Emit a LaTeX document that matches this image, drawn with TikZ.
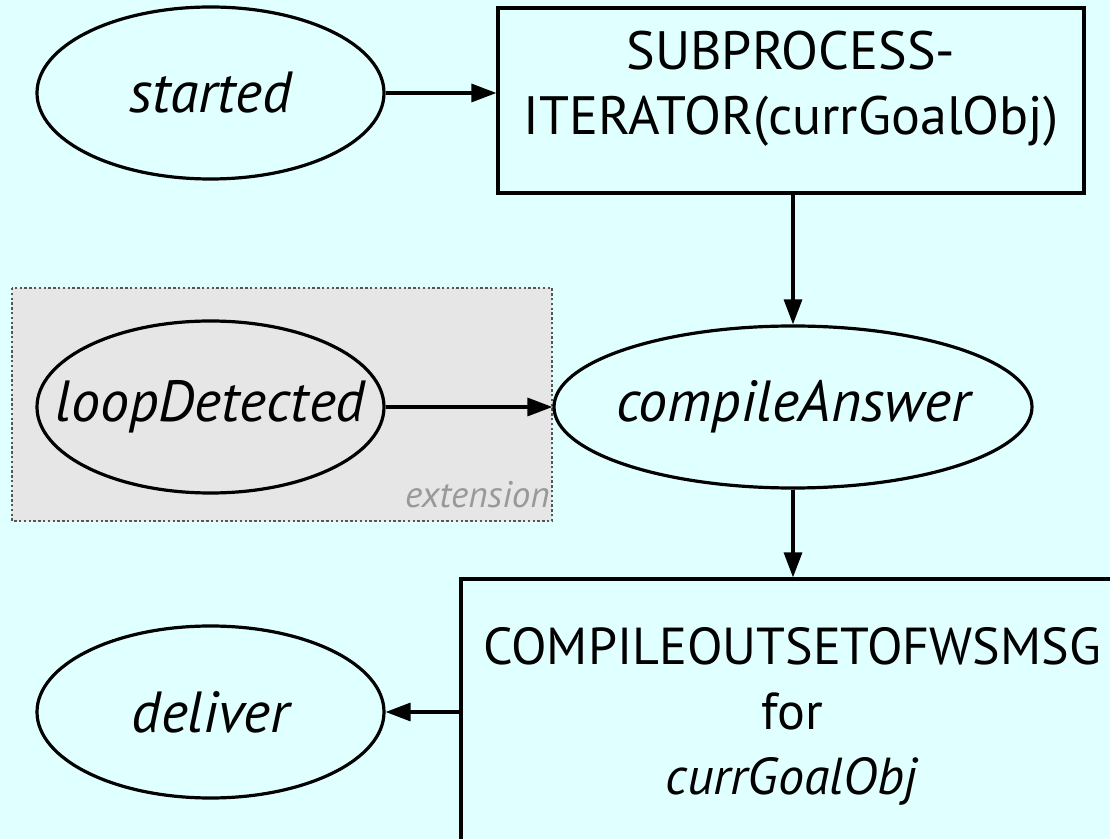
\documentclass[tikz,border=0pt]{standalone}
\usepackage{fontspec}
\setmainfont{PT Sans}
\usetikzlibrary{arrows.meta,shapes.geometric}
\definecolor{canvas}{HTML}{E0FFFF}
\definecolor{extfill}{HTML}{E6E6E6}
\definecolor{extline}{HTML}{555555}
\definecolor{exttext}{HTML}{999999}
% keep ellipse sizes fixed, independent of the label width
\newcommand{\fixw}[1]{\makebox[0pt]{#1}}
\tikzset{
  state/.style={draw, ellipse, line width=1.6pt, inner sep=0pt,
    minimum width=173.5pt, minimum height=86pt,
    font=\fontsize{29}{34}\selectfont\itshape},
  procbox/.style={draw, rectangle, line width=1.6pt, inner sep=0pt, align=center,
    font=\fontsize{27}{32.5}\selectfont},
  flow/.style={line width=1.6pt, -{Triangle[length=12.5pt,width=9pt]}},
}
\begin{document}
\begin{tikzpicture}[x=0.5pt, y=-0.5pt]
  % canvas
  \fill[canvas] (0,0) rectangle (1110,839);
  \useasboundingbox (0,0) rectangle (1110,839);

  % extension area
  \draw[fill=extfill, draw=extline, line width=0.6pt, dash pattern=on 1.2pt off 1.2pt]
    (12,288) rectangle (552,521);
  \node[anchor=base east, inner sep=0pt, text=exttext,
        font=\fontsize{18.5}{20}\selectfont\itshape] (extlabel) at (550,508) {extension};

  % nodes
  \node[state] (started) at (210.5,93) {\fixw{started}};
  \node[procbox, minimum width=293pt, minimum height=92.5pt] (sub) at (791,100.5)
    {SUBPROCESS-\\ITERATOR(currGoalObj)\rule[-18pt]{0pt}{0pt}};
  \node[state, minimum width=239pt, minimum height=81pt] (compile) at (793,407) {\fixw{compileAnswer}};
  \node[state] (loop) at (210.5,407) {\fixw{loopDetected}};
  \node[procbox, minimum width=331pt, minimum height=137pt,
        font=\fontsize{26}{32.5}\selectfont] (out) at (792,716)
    {COMPILEOUTSETOFWSMSG\\for\\\textit{currGoalObj}};
  \node[state] (deliver) at (210.5,712) {\fixw{deliver}};

  % connectors
  \draw[flow] (started.east) -- (started.east -| sub.west);
  \draw[flow] (sub.south -| compile.north) -- (compile.north);
  \draw[flow] (loop.east) -- (compile.west);
  \draw[flow] (compile.south) -- (compile.south |- out.north);
  \draw[flow] (deliver.east -| out.west) -- (deliver.east);
\end{tikzpicture}
\end{document}
